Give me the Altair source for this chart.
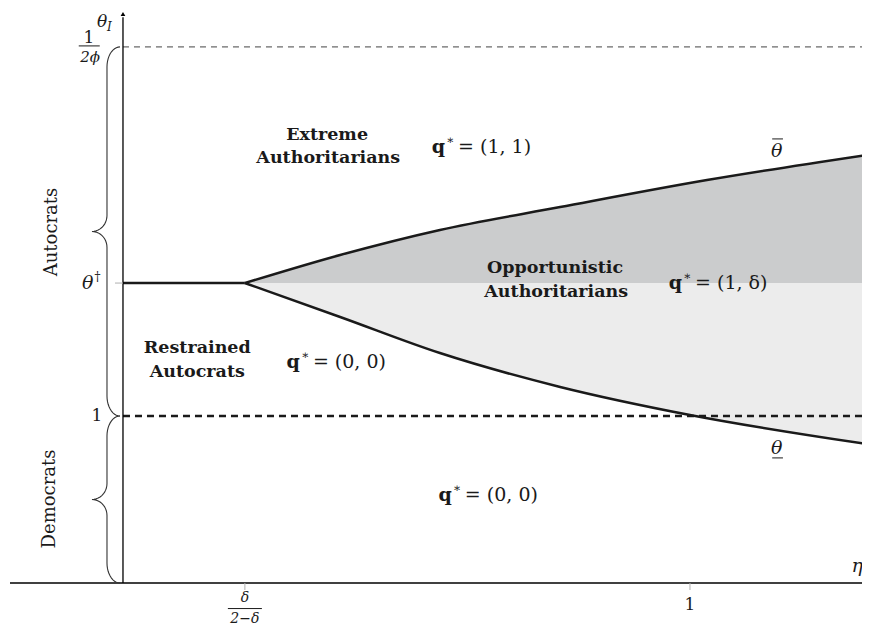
import altair as alt
import pandas as pd
import numpy as np

# ---------------- data (model units: x = eta, y = theta_I) ----------------
eta_cut = 0.215          # delta / (2 - delta)
theta_dag = 1.796        # theta dagger
theta_one = 1.0
theta_top = 3.21         # 1 / (2 phi)
theta_arrow = 3.407

eta_up = [0.215, 0.383, 0.559, 0.771, 1.030, 1.312]
theta_up = [1.796, 1.964, 2.114, 2.251, 2.413, 2.563]
eta_lo = [0.215, 0.383, 0.559, 0.771, 1.000, 1.312]
theta_lo = [1.796, 1.593, 1.377, 1.174, 1.006, 0.832]

X_MIN, X_MAX = -0.2028, 1.3034
Y_MIN, Y_MAX = -0.2575, 3.443
W, H = 854, 618
PX_X = (X_MAX - X_MIN) / W
PX_Y = (Y_MAX - Y_MIN) / H

SERIF = "DejaVu Serif"
INK = "#1a1a1a"

xs = alt.Scale(domain=[X_MIN, X_MAX], nice=False, zero=False)
ys = alt.Scale(domain=[Y_MIN, Y_MAX], nice=False, zero=False)


def X(field="x"):
    return alt.X(f"{field}:Q", scale=xs, axis=None)


def Y(field="y"):
    return alt.Y(f"{field}:Q", scale=ys, axis=None)


layers = []

# shaded regions
up_df = pd.DataFrame({"x": eta_up, "y": theta_up, "y2": [theta_dag] * len(eta_up)})
lo_df = pd.DataFrame({"x": eta_lo, "y": theta_lo, "y2": [theta_dag] * len(eta_lo)})
layers.append(alt.Chart(up_df).mark_area(color="#cbcccd", interpolate="monotone", clip=True)
              .encode(x=X(), y=Y(), y2="y2:Q"))
layers.append(alt.Chart(lo_df).mark_area(color="#ececec", interpolate="monotone", clip=True)
              .encode(x=X(), y=Y(), y2="y2:Q"))

# dashed lines
dash_top = pd.DataFrame({"x": [0.0], "x2": [X_MAX], "y": [theta_top]})
layers.append(alt.Chart(dash_top).mark_rule(color="#444444", strokeWidth=1, strokeDash=[6, 5])
              .encode(x=X(), x2="x2:Q", y=Y()))
dash_one = pd.DataFrame({"x": [0.0], "x2": [X_MAX], "y": [theta_one]})
layers.append(alt.Chart(dash_one).mark_rule(color=INK, strokeWidth=2.5, strokeDash=[7, 5])
              .encode(x=X(), x2="x2:Q", y=Y()))

# boundary curves
layers.append(alt.Chart(up_df).mark_line(color=INK, strokeWidth=2.5, interpolate="monotone", clip=True)
              .encode(x=X(), y=Y()))
layers.append(alt.Chart(lo_df).mark_line(color=INK, strokeWidth=2.5, interpolate="monotone", clip=True)
              .encode(x=X(), y=Y()))
flat = pd.DataFrame({"x": [0.0], "x2": [eta_cut], "y": [theta_dag]})
layers.append(alt.Chart(flat).mark_rule(color=INK, strokeWidth=2.5)
              .encode(x=X(), x2="x2:Q", y=Y()))

# axes
xaxis = pd.DataFrame({"x": [X_MIN + 2 * PX_X], "x2": [X_MAX], "y": [0.0]})
layers.append(alt.Chart(xaxis).mark_rule(color="black", strokeWidth=1.3)
              .encode(x=X(), x2="x2:Q", y=Y()))
yaxis = pd.DataFrame({"x": [0.0], "y": [0.0], "y2": [theta_arrow - 0.02]})
layers.append(alt.Chart(yaxis).mark_rule(color="black", strokeWidth=1.3)
              .encode(x=X(), y=Y(), y2="y2:Q"))
arrow = pd.DataFrame({"x": [0.0], "y": [theta_arrow]})
layers.append(alt.Chart(arrow).mark_point(shape="triangle-up", filled=True, color="black",
                                          size=22, opacity=1)
              .encode(x=X(), y=Y()))

# small ticks
xt = pd.DataFrame({"x": [eta_cut, 1.0], "y": [0.0, 0.0], "y2": [-7 * PX_Y, -7 * PX_Y]})
layers.append(alt.Chart(xt).mark_rule(color="#b0b0b0", strokeWidth=1)
              .encode(x=X(), y=Y(), y2="y2:Q"))
yt = pd.DataFrame({"x": [-8 * PX_X], "x2": [0.0], "y": [theta_dag]})
layers.append(alt.Chart(yt).mark_rule(color="#b0b0b0", strokeWidth=1)
              .encode(x=X(), x2="x2:Q", y=Y()))


# curly braces (shape built from the brace end values)
def brace(y_lo, y_hi):
    xe, xs_, xt_ = -3 * PX_X, -16 * PX_X, -31 * PX_X
    ry1, ry2 = 20 * PX_Y, 16 * PX_Y
    ym = (y_lo + y_hi) / 2
    pts = []
    t = np.linspace(0, np.pi / 2, 12)
    pts += list(zip(xe - (xe - xs_) * np.sin(t), y_hi - ry1 + ry1 * np.cos(t)))
    t2 = np.linspace(np.pi / 2, 0, 12)
    pts += list(zip(xt_ + (xs_ - xt_) * np.sin(t2), ym + ry2 - ry2 * np.cos(t2)))
    t3 = np.linspace(0, np.pi / 2, 12)
    pts += list(zip(xt_ + (xs_ - xt_) * np.sin(t3), ym - ry2 + ry2 * np.cos(t3)))
    t4 = np.linspace(np.pi / 2, 0, 12)
    pts += list(zip(xe - (xe - xs_) * np.sin(t4), y_lo + ry1 - ry1 * np.cos(t4)))
    df = pd.DataFrame(pts, columns=["x", "y"])
    df["o"] = range(len(df))
    return df


for lo, hi in [(theta_one, theta_top), (0.0, theta_one)]:
    layers.append(alt.Chart(brace(lo, hi)).mark_line(color="#333333", strokeWidth=1.1)
                  .encode(x=X(), y=Y(), order="o:Q"))


def text_layer(df, **kw):
    base = dict(font=SERIF, color=INK, baseline="middle", align="center")
    base.update(kw)
    return alt.Chart(df).mark_text(**base).encode(x=X(), y=Y(), text="t:N")


# bold region labels
bold_t = ["Extreme", "Authoritarians", "Opportunistic", "Authoritarians", "Restrained", "Autocrats"]
bold_x = [0.360, 0.362, 0.762, 0.764, 0.131, 0.131]
bold_y = [2.683, 2.545, 1.886, 1.743, 1.407, 1.263]
layers.append(text_layer(pd.DataFrame({"x": bold_x, "y": bold_y, "t": bold_t}),
                         fontSize=17.5, fontWeight="bold"))

# q* labels
q_x = [0.568, 0.986, 0.312, 0.580]
q_y = [2.611, 1.796, 1.323, 0.527]
q_rest = ["= (1, 1)", "= (1, δ)", "= (0, 0)", "= (0, 0)"]
layers.append(text_layer(pd.DataFrame({"x": q_x, "y": q_y, "t": ["q"] * 4}),
                         fontSize=19, fontWeight="bold", align="right"))
layers.append(text_layer(pd.DataFrame({"x": q_x, "y": q_y, "t": ["∗"] * 4}),
                         fontSize=12, align="left", dx=1, dy=-7))
layers.append(text_layer(pd.DataFrame({"x": q_x, "y": q_y, "t": q_rest}),
                         fontSize=19, align="left", dx=13))

# vertical group labels
layers.append(text_layer(pd.DataFrame({"x": [-0.125, -0.129], "y": [2.102, 0.503],
                                       "t": ["Autocrats", "Democrats"]}),
                         fontSize=18, angle=270))

# italic math labels
it_t = ["θ", "θ", "η"]
it_x = [1.153, 1.153, 1.295]
it_y = [2.587, 0.808, 0.102]
layers.append(text_layer(pd.DataFrame({"x": it_x, "y": it_y, "t": it_t}),
                         fontSize=19, fontStyle="italic"))
layers.append(text_layer(pd.DataFrame({"x": [-0.037], "y": [3.362], "t": ["θ"]}),
                         fontSize=17, fontStyle="italic"))
layers.append(text_layer(pd.DataFrame({"x": [-0.024], "y": [3.332], "t": ["I"]}),
                         fontSize=12, fontStyle="italic"))
layers.append(text_layer(pd.DataFrame({"x": [eta_cut, eta_cut], "y": [-0.090, -0.214],
                                       "t": ["δ", "2−δ"]}),
                         fontSize=14, fontStyle="italic"))
layers.append(text_layer(pd.DataFrame({"x": [-0.058], "y": [3.150], "t": ["2ϕ"]}),
                         fontSize=15, fontStyle="italic"))
layers.append(text_layer(pd.DataFrame({"x": [-0.062], "y": [theta_dag], "t": ["θ"]}),
                         fontSize=19, fontStyle="italic"))
layers.append(text_layer(pd.DataFrame({"x": [-0.045], "y": [theta_dag], "t": ["†"]}),
                         fontSize=12, dy=-6))

# upright numeric tick labels
num_x = [-0.046, 1.0, -0.060]
num_y = [theta_one, -0.132, 3.263]
layers.append(text_layer(pd.DataFrame({"x": num_x, "y": num_y, "t": ["1", "1", "1"]}),
                         fontSize=17))

# fraction bars and over/under bars
bars = pd.DataFrame({
    "x": [0.185, -0.078, 1.145, 1.145],
    "x2": [0.245, -0.041, 1.164, 1.164],
    "y": [-0.153, 3.216, 2.659, 0.749],
})
layers.append(alt.Chart(bars).mark_rule(color=INK, strokeWidth=1)
              .encode(x=X(), x2="x2:Q", y=Y()))

chart = alt.layer(*layers).properties(
    width=W, height=H, padding=0,
    autosize=alt.AutoSizeParams(type="none"),
).configure_view(stroke=None)

chart.save("out.html", embed_options={"renderer": "svg", "actions": False})
